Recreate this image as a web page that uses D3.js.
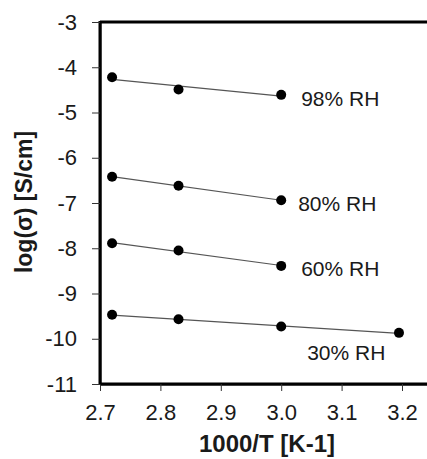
<!DOCTYPE html>
<html>
<head>
<meta charset="utf-8">
<script src="https://cdn.jsdelivr.net/npm/d3@7"></script>
<style>
html,body{margin:0;padding:0;background:#fff;}
svg{display:block;}
text{font-family:"Liberation Sans",Arial,sans-serif;fill:#1a1a1a;}
</style>
</head>
<body>
<div id="chart"></div>
<script>
// ---- data ----
const seriesNames = ["98% RH", "80% RH", "60% RH", "30% RH"];
const xValues98 = [2.72, 2.83, 3.0];
const yValues98 = [-4.22, -4.49, -4.61];
const xValues80 = [2.72, 2.83, 3.0];
const yValues80 = [-6.42, -6.62, -6.94];
const xValues60 = [2.72, 2.83, 3.0];
const yValues60 = [-7.89, -8.05, -8.39];
const xValues30 = [2.72, 2.83, 3.0, 3.195];
const yValues30 = [-9.47, -9.57, -9.73, -9.87];
const xTicks = [2.7, 2.8, 2.9, 3.0, 3.1, 3.2];
const yTicks = [-3, -4, -5, -6, -7, -8, -9, -10, -11];
const xTitle = "1000/T [K-1]";
const yTitle = "log(\u03C3) [S/cm]";

const series = [
  {name: seriesNames[0], xs: xValues98, ys: yValues98, labelAt: 3.0, dx: 20, dy: 11},
  {name: seriesNames[1], xs: xValues80, ys: yValues80, labelAt: 3.0, dx: 17, dy: 11},
  {name: seriesNames[2], xs: xValues60, ys: yValues60, labelAt: 3.0, dx: 20, dy: 10},
  {name: seriesNames[3], xs: xValues30, ys: yValues30, labelAt: 3.0, dx: 26, dy: 33}
];

const W = 427, H = 459;
const mLeft = 100, mTop = 22, mBottom = 384;
const x = d3.scaleLinear().domain([2.7, 3.25]).range([mLeft, mLeft + 5.5 * 60.4]);
const y = d3.scaleLinear().domain([-11, -3]).range([mBottom, mTop]);

const svg = d3.select("#chart").append("svg").attr("width", W).attr("height", H);

// frame: top border, left axis, bottom axis (drawn first, under everything)
const frame = svg.append("g").attr("class", "frame");
frame.append("line").attr("x1", x(2.7)).attr("x2", W).attr("y1", y(-3)).attr("y2", y(-3))
  .attr("stroke", "black").attr("stroke-width", 3);
frame.append("line").attr("x1", x(2.7)).attr("x2", x(2.7)).attr("y1", y(-3) - 1).attr("y2", y(-11) + 1)
  .attr("stroke", "black").attr("stroke-width", 3);
frame.append("line").attr("x1", x(2.7)).attr("x2", W).attr("y1", y(-11)).attr("y2", y(-11))
  .attr("stroke", "black").attr("stroke-width", 3);

// axes (ticks + labels)
const xAxis = svg.append("g").attr("transform", `translate(0,${mBottom})`)
  .call(d3.axisBottom(x).tickValues(xTicks).tickFormat(d3.format(".1f")).tickSize(7).tickPadding(13).tickSizeOuter(0));
const yAxis = svg.append("g").attr("transform", `translate(${mLeft},0)`)
  .call(d3.axisLeft(y).tickValues(yTicks).tickFormat(d => String(d)).tickSize(8).tickPadding(15).tickSizeOuter(0));

[xAxis, yAxis].forEach(g => {
  g.select(".domain").attr("stroke", "black").attr("stroke-width", 2);
  g.selectAll(".tick line").attr("stroke", "#333").attr("stroke-width", 1);
  g.selectAll(".tick text").attr("font-size", 22).attr("font-family", '"Liberation Sans",Arial,sans-serif').attr("fill", "#1a1a1a");
});

// regression lines + points + labels
series.forEach(s => {
  const n = s.xs.length;
  const mx = d3.mean(s.xs), my = d3.mean(s.ys);
  let sxx = 0, sxy = 0;
  for (let i = 0; i < n; i++) { sxx += (s.xs[i] - mx) ** 2; sxy += (s.xs[i] - mx) * (s.ys[i] - my); }
  const b = sxy / sxx, a = my - b * mx;
  const xa = d3.min(s.xs), xb = d3.max(s.xs);
  svg.append("line")
    .attr("x1", x(xa)).attr("y1", y(a + b * xa))
    .attr("x2", x(xb)).attr("y2", y(a + b * xb))
    .attr("stroke", "#555").attr("stroke-width", 1.2);
  s.xs.forEach((xv, i) => {
    svg.append("circle").attr("cx", x(xv)).attr("cy", y(s.ys[i])).attr("r", 5).attr("fill", "#000");
  });
  const li = s.xs.indexOf(s.labelAt);
  svg.append("text").attr("x", x(s.xs[li]) + s.dx).attr("y", y(s.ys[li]) + s.dy)
    .attr("font-size", 21).text(s.name);
});

// axis titles
svg.append("text").attr("x", 267).attr("y", 452).attr("text-anchor", "middle")
  .attr("font-size", 24).attr("font-weight", "bold").text(xTitle);
svg.append("text").attr("transform", "translate(32,202) rotate(-90)").attr("text-anchor", "middle")
  .attr("font-size", 23).attr("font-weight", "bold").text(yTitle);
</script>
</body>
</html>
